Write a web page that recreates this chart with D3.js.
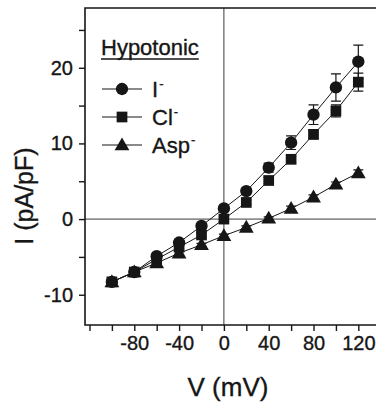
<!DOCTYPE html>
<html><head><meta charset="utf-8">
<script src="https://cdn.jsdelivr.net/npm/d3@7"></script>
<style>
html,body{margin:0;padding:0;background:#fff;}
svg{display:block;font-family:"Liberation Sans",Arial,sans-serif;}
svg text{stroke:#161616;stroke-width:0.35px;}
</style></head>
<body>
<script>
// ---- data ----
const voltages = [-100,-80,-60,-40,-20,0,20,40,60,80,100,120];
const iodide   = [-8.3,-7.0,-4.9,-3.1,-0.9,1.4,3.7,6.8,10.1,13.8,17.4,20.8];
const chloride = [-8.3,-7.0,-5.3,-3.7,-2.1,0.0,2.2,5.1,7.9,11.2,14.3,18.1];
const aspartate= [-8.3,-7.0,-5.8,-4.5,-3.4,-2.2,-1.1,0.1,1.4,2.9,4.6,6.1];
const iodideErr   = [0.3,0.3,0.3,0.3,0.3,0.3,0.4,0.6,0.9,1.3,1.8,2.2];
const chlorideErr = [0.3,0.3,0.3,0.3,0.3,0.3,0.3,0.4,0.5,0.6,0.8,1.2];
const aspartateErr= [0.2,0.2,0.2,0.2,0.2,0.2,0.2,0.2,0.3,0.3,0.3,0.4];
const seriesNames = ["I","Cl","Asp"];
const legendTitle = "Hypotonic";
const xTickValues = [-120,-100,-80,-60,-40,-20,0,20,40,60,80,100,120];
const xTickLabels = [-80,-40,0,40,80,120];
const yTickValues = [-10,-5,0,5,10,15,20,25];
const yTickLabels = [-10,0,10,20];
const xTitle = "V (mV)";
const yTitle = "I (pA/pF)";

const W = 376, H = 404;
const ink = "#161616";
const svg = d3.select("body").append("svg").attr("width", W).attr("height", H);

const x = d3.scaleLinear().domain([-124, 139]).range([85, 379.6]);
const y = d3.scaleLinear().domain([-14, 27.9]).range([325, 8]);

// zero lines
svg.append("line").attr("x1", x(-124)).attr("x2", W).attr("y1", y(0)).attr("y2", y(0))
  .attr("stroke", "#3a3a3a").attr("stroke-width", 1);
svg.append("line").attr("x1", x(0)).attr("x2", x(0)).attr("y1", y(27.9)).attr("y2", y(-14))
  .attr("stroke", "#3a3a3a").attr("stroke-width", 1);

// frame
svg.append("path").attr("d", `M${W+2},${y(27.9)}H${x(-124)}V${y(-14)}H${W+2}`)
  .attr("fill", "none").attr("stroke", ink).attr("stroke-width", 1.6);

// x axis ticks
const xAxis = d3.axisBottom(x).tickValues(xTickValues).tickSize(6).tickPadding(5)
  .tickFormat(d => xTickLabels.includes(d) ? d : "");
const gx = svg.append("g").attr("transform", `translate(0,${y(-14)})`).call(xAxis);
gx.select(".domain").remove();
gx.selectAll(".tick line").attr("stroke", ink).attr("stroke-width", 1.4);
gx.selectAll(".tick text").attr("font-size", 20).attr("fill", ink)
  .attr("font-family", "Liberation Sans, Arial, sans-serif").attr("dy", "0.72em");

// y axis ticks
const yAxis = d3.axisLeft(y).tickValues(yTickValues).tickSize(6).tickPadding(6)
  .tickFormat(d => yTickLabels.includes(d) ? d : "");
const gy = svg.append("g").attr("transform", `translate(${x(-124)},0)`).call(yAxis);
gy.select(".domain").remove();
gy.selectAll(".tick line").attr("stroke", ink).attr("stroke-width", 1.4);
gy.selectAll(".tick text").attr("font-size", 20).attr("fill", ink)
  .attr("font-family", "Liberation Sans, Arial, sans-serif");

// titles
svg.append("text").attr("x", 228).attr("y", 396).attr("text-anchor", "middle")
  .attr("font-size", 26).attr("fill", ink).text(xTitle);
svg.append("text").attr("transform", "translate(33,196) rotate(-90)").attr("text-anchor", "middle")
  .attr("font-size", 25).attr("fill", ink).text(yTitle);

// series
const series = [
  {name: seriesNames[0], vals: iodide, err: iodideErr, sym: d3.symbolCircle, size: 120},
  {name: seriesNames[1], vals: chloride, err: chlorideErr, sym: d3.symbolSquare, size: 115},
  {name: seriesNames[2], vals: aspartate, err: aspartateErr, sym: d3.symbolTriangle, size: 95}
];
const line = d3.line().x(d => x(d[0])).y(d => y(d[1]));

series.forEach(s => {
  const pts = voltages.map((v, i) => [v, s.vals[i], s.err[i]]);
  const g = svg.append("g");
  g.append("path").attr("d", line(pts)).attr("fill", "none").attr("stroke", ink).attr("stroke-width", 1);
  // error bars
  pts.forEach(p => {
    const cx = x(p[0]);
    g.append("path")
      .attr("d", `M${cx},${y(p[1]-p[2])}V${y(p[1]+p[2])}M${cx-5},${y(p[1]+p[2])}H${cx+5}M${cx-5},${y(p[1]-p[2])}H${cx+5}`)
      .attr("fill", "none").attr("stroke", ink).attr("stroke-width", 1.2);
  });
  g.selectAll("path.m").data(pts).join("path").attr("class", "m")
    .attr("d", d3.symbol().type(s.sym).size(s.size))
    .attr("transform", d => `translate(${x(d[0])},${y(d[1]) + (s.sym === d3.symbolTriangle ? 1 : 0)})`)
    .attr("fill", ink);
});

// legend
const lg = svg.append("g");
const tt = lg.append("text").attr("x", 101).attr("y", 55).attr("font-size", 22).attr("fill", ink).text(legendTitle);
const tw = tt.node().getComputedTextLength();
lg.append("line").attr("x1", 101).attr("x2", 101 + tw).attr("y1", 59).attr("y2", 59)
  .attr("stroke", ink).attr("stroke-width", 1.6);
series.forEach((s, i) => {
  const cy = 89 + i * 28;
  lg.append("line").attr("x1", 102).attr("x2", 142).attr("y1", cy).attr("y2", cy)
    .attr("stroke", ink).attr("stroke-width", 1.2);
  lg.append("path").attr("d", d3.symbol().type(s.sym).size(s.size)())
    .attr("transform", `translate(122,${cy + (s.sym === d3.symbolTriangle ? 1 : 0)})`).attr("fill", ink);
  const t = lg.append("text").attr("x", 152).attr("y", cy + 7.5).attr("font-size", 22).attr("fill", ink);
  t.append("tspan").text(s.name);
  t.append("tspan").attr("font-size", 13).attr("dy", -9).attr("dx", 1).text("-");
});
</script>
</body></html>
